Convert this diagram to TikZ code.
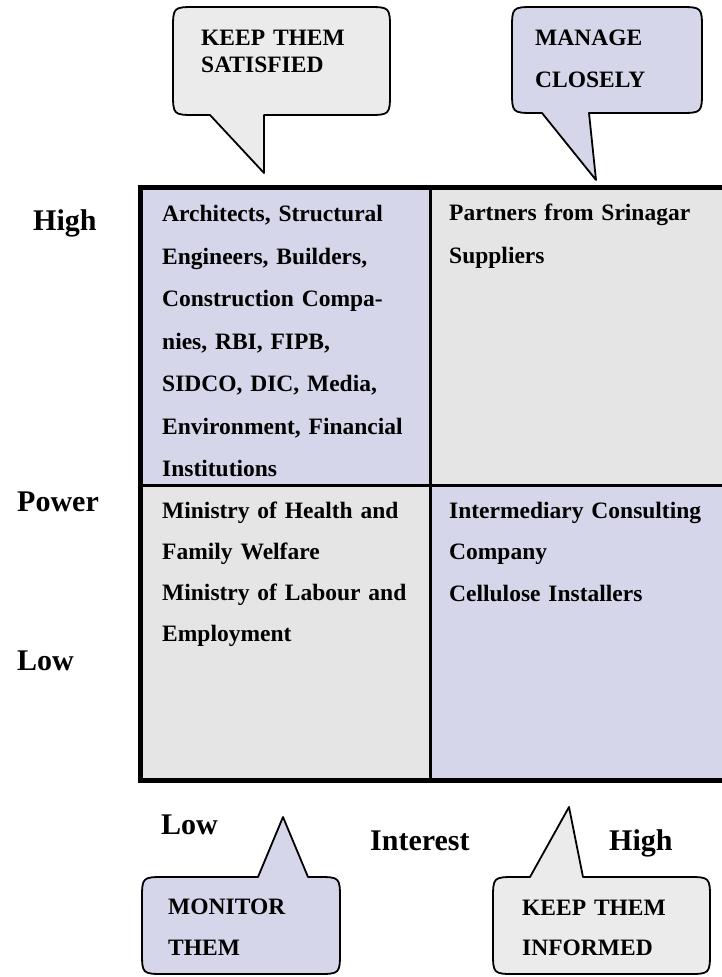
\documentclass[tikz,border=0pt]{standalone}
\usepackage{fontspec}
\setmainfont{Liberation Serif}
\definecolor{lavend}{RGB}{213,214,234}
\definecolor{grcell}{RGB}{229,229,229}
\definecolor{grbulle}{RGB}{235,235,235}
\tikzset{
  cell/.style={anchor=base west, align=left, inner sep=0pt, text width=#1,
    font=\bfseries\fontsize{23.5}{42.5}\selectfont},
  cell/.default=270pt,
  axe/.style={anchor=base west, inner sep=0pt, font=\bfseries\fontsize{30}{36}\selectfont},
  bulle/.style={draw=black, line width=1.8pt, line join=round},
}
\begin{document}
\begin{tikzpicture}[x=1pt,y=-1pt]
\useasboundingbox (0,0) rectangle (721,977);

% ------ grille pouvoir / interet ------
\fill[lavend] (140,187) rectangle (430,485);
\fill[grcell] (430,187) rectangle (726,485);
\fill[grcell] (140,485) rectangle (430,780);
\fill[lavend] (430,485) rectangle (726,780);
\draw[line width=3pt] (430,187) -- (430,780);
\draw[line width=3pt] (140,485) -- (726,485);
\draw[line width=5pt] (140,187) rectangle (728,780);

\node[cell] (hautgauche) at (162,221.7) {Architects, Structural\\ Engineers, Builders,\\
   Construction Compa-\\ nies, RBI, FIPB,\\ SIDCO, DIC, Media,\\ Environment, Financial\\ Institutions};
\node[cell] (hautdroite) at (449,220.7) {Partners from Srinagar\\ Suppliers};
\node[cell, font=\bfseries\fontsize{23.5}{41.3}\selectfont] (basgauche) at (162,518)
   {Ministry of Health and\\ Family Welfare\\ Ministry of Labour and\\ Employment};
\node[cell, font=\bfseries\fontsize{23.5}{41.8}\selectfont] (basdroite) at (449,518)
   {Intermediary Consulting\\ Company\\ Cellulose Installers};

% ------ axes ------
\node[axe] (pHigh) at (33,230) {High};
\node[axe] (pPower) at (17,511.7) {Power};
\node[axe] (pLow) at (17,670) {Low};
\node[axe] (iLow) at (161,834) {Low};
\node[axe] (iInterest) at (370,850) {Interest};
\node[axe] (iHigh) at (609,850) {High};

% ------ bulles ------
\filldraw[bulle, fill=grbulle] (264,115) -- (367,115) .. controls (390,115) .. (390,92)
   -- (390,30) .. controls (390,7) .. (367,7) -- (196,7) .. controls (173,7) .. (173,30)
   -- (173,92) .. controls (173,115) .. (196,115) -- (210,115) -- (264,173) -- cycle;
\filldraw[bulle, fill=lavend] (589,113) -- (679,113) .. controls (702,113) .. (702,90)
   -- (702,30) .. controls (702,7) .. (679,7) -- (535,7) .. controls (512,7) .. (512,30)
   -- (512,90) .. controls (512,113) .. (535,113) -- (542,113) -- (596,180) -- cycle;
\filldraw[bulle, fill=lavend] (258,877) -- (165,877) .. controls (142,877) .. (142,900)
   -- (142,951) .. controls (142,974) .. (165,974) -- (317,974) .. controls (340,974) .. (340,951)
   -- (340,900) .. controls (340,877) .. (317,877) -- (308,877) -- (283,817) -- cycle;
\filldraw[bulle, fill=grbulle] (530,877) -- (516,877) .. controls (493,877) .. (493,900)
   -- (493,951) .. controls (493,974) .. (516,974) -- (687,974) .. controls (710,974) .. (710,951)
   -- (710,900) .. controls (710,877) .. (687,877) -- (583,877) -- (569,807) -- cycle;

\node[cell=180pt, font=\bfseries\fontsize{23.5}{27.7}\selectfont] (satisfied) at (201,45) {KEEP THEM\\ SATISFIED};
\node[cell=160pt, font=\bfseries\fontsize{23.5}{42}\selectfont] (closely) at (535,45) {MANAGE\\ CLOSELY};
\node[cell=160pt, font=\bfseries\fontsize{23.5}{41}\selectfont] (monitor) at (168,914) {MONITOR\\ THEM};
\node[cell=170pt, font=\bfseries\fontsize{23.5}{40}\selectfont] (informed) at (522,915) {KEEP THEM\\ INFORMED};
\end{tikzpicture}
\end{document}
